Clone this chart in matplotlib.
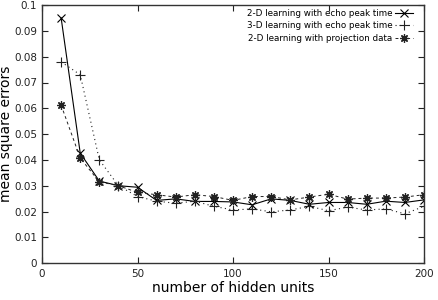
import numpy as np
import matplotlib
matplotlib.use("Agg")
import matplotlib.pyplot as plt

# hidden units and the three error curves
units = [10, 20, 30, 40, 50, 60, 70, 80, 90, 100,
         110, 120, 130, 140, 150, 160, 170, 180, 190, 200]
echo_2d = [0.095, 0.0426, 0.0318, 0.0300, 0.0294, 0.0243, 0.0249, 0.0239, 0.0239, 0.0237,
           0.0226, 0.0249, 0.0243, 0.0228, 0.0235, 0.0235, 0.0228, 0.0240, 0.0235, 0.0245]
echo_3d = [0.078, 0.073, 0.040, 0.0300, 0.0258, 0.0240, 0.0232, 0.0240, 0.0220, 0.0206,
           0.0210, 0.0199, 0.0206, 0.0220, 0.0203, 0.0217, 0.0206, 0.0210, 0.0191, 0.0220]
proj_2d = [0.0612, 0.0407, 0.0315, 0.0300, 0.0274, 0.0265, 0.0256, 0.0265, 0.0258, 0.0243,
           0.0258, 0.0258, 0.0245, 0.0256, 0.0267, 0.0248, 0.0252, 0.0252, 0.0256, 0.0265]

fig = plt.figure(figsize=(4.38, 3.0), dpi=100)
ax = fig.add_axes([0.096, 0.123, 0.872, 0.86])

ax.plot(units, echo_2d, color="black", lw=0.8, ls="-", marker="x", ms=6, mew=0.8,
        label="2-D learning with echo peak time")
ax.plot(units, echo_3d, color="#222222", lw=0.8, ls=(0, (1, 3)), marker="+", ms=7, mew=0.8,
        label="3-D learning with echo peak time")
ax.plot(units, proj_2d, color="#222222", lw=0.7, ls=(0, (3, 3)), marker=(8, 2, 0), ms=6, mew=0.9,
        label="2-D learning with projection data")

ax.set_xlim(0, 200)
ax.set_ylim(0, 0.1)
ax.set_xticks(np.arange(0, 201, 50))
ax.set_yticks(np.arange(0, 0.101, 0.01))
ax.set_yticklabels(["0", "0.01", "0.02", "0.03", "0.04", "0.05",
                    "0.06", "0.07", "0.08", "0.09", "0.1"])
ax.tick_params(direction="in", top=True, right=True, labelsize=7.5, length=4, width=0.8,
               colors="#222222")
ax.tick_params(axis="x", pad=4)
for s in ax.spines.values():
    s.set_linewidth(1.0)
    s.set_color("#333333")

ax.set_xlabel("number of hidden units", fontsize=10, labelpad=2)
ax.set_ylabel("mean square errors", fontsize=10, labelpad=1)

ax.legend(loc="upper right", bbox_to_anchor=(0.98, 1.0), frameon=False, markerfirst=False,
          fontsize=6.3, handlelength=2.0, handletextpad=0.3, labelspacing=0.4,
          borderaxespad=0.3, borderpad=0.1)

fig.savefig("out.png", dpi=100)
